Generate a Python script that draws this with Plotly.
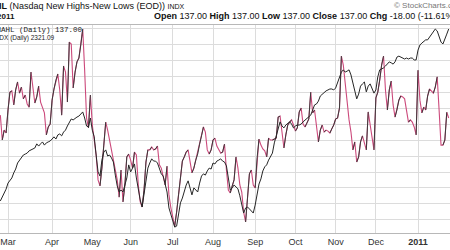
import pandas as pd
import plotly.graph_objects as go

# ---------------- data ----------------
holidays = ["2010-04-02", "2010-05-31", "2010-07-05", "2010-09-06",
            "2010-11-25", "2010-12-24", "2011-01-17"]
first_day = "2010-02-23"

nahl = [146, 68, 99, 90, 162, 218, 222, 178, 225, 250,
        215, 234, 197, 209, 181, 171, 281, 240, 184, 203,
        237, 187, 171, 153, 84, 109, 118, 193, 228, 256,
        275, 225, 146, 300, 281, 187, 375, 369, 231, 281,
        313, 325, 366, 416, 287, 137, 106, 209, 115, 68,
        21, -57, -76, -20, 52, 124, 99, 68, 30, -1,
        -26, -57, -111, -26, -126, -73, 15, 24, 5, -20,
        30, 21, -73, -126, -142, -89, -1, 37, 37, 46,
        37, 40, 49, -10, -20, -45, -73, -14, -104, -145,
        -177, -202, -158, -104, -51, 2, 15, 30, 37, 5,
        -35, -20, 5, 24, 55, 81, 109, 93, 37, 24,
        37, 68, 74, 49, 37, 27, 30, 55, -26, -89,
        -98, -76, -57, 15, -20, -73, -95, -158, -189, -114,
        -38, -26, -73, -82, 12, 71, 52, 40, 34, 15,
        74, 68, 68, 71, 74, 140, 143, 93, 43, 84,
        115, 124, 131, 115, 96, 106, 156, 168, 118, 109,
        121, 134, 218, 153, 162, 115, 62, 99, 115, 93,
        99, 96, 90, 103, 115, 134, 137, 168, 331, 303,
        240, 193, 131, 93, 37, 62, -1, 15, 62, 81,
        62, 37, 156, 112, 81, 37, 200, 218, 256, 303,
        331, 225, 162, 225, 253, 178, 140, 162, 193, 206,
        203, 197, 156, 124, 131, 124, 109, 84, 287, 193,
        153, 171, 162, 206, 228, 222, 215, 234, 266, 162,
        52, 52, 68, 155, 137]

ndx = [1782, 1794, 1807, 1819, 1838, 1848, 1854, 1870, 1882, 1901,
       1910, 1920, 1926, 1929, 1932, 1939, 1942, 1945, 1948, 1961,
       1954, 1961, 1967, 1957, 1964, 1967, 1970, 1976, 1983, 1976,
       1989, 1992, 1986, 1998, 2004, 2017, 2030, 2039, 2036, 2042,
       2045, 2048, 2055, 2061, 2042, 2017, 2014, 2042, 2004, 1983,
       1926, 1873, 1860, 1910, 1935, 1942, 1923, 1926, 1917, 1904,
       1863, 1829, 1810, 1816, 1810, 1832, 1854, 1895, 1873, 1885,
       1898, 1854, 1816, 1785, 1763, 1801, 1848, 1885, 1901, 1914,
       1907, 1907, 1901, 1885, 1867, 1860, 1829, 1810, 1760, 1738,
       1716, 1700, 1703, 1747, 1776, 1791, 1816, 1832, 1845, 1823,
       1801, 1823, 1816, 1810, 1838, 1860, 1867, 1863, 1876, 1885,
       1882, 1901, 1898, 1907, 1910, 1914, 1907, 1904, 1892, 1848,
       1816, 1823, 1832, 1826, 1820, 1798, 1766, 1744, 1760, 1763,
       1757, 1751, 1744, 1769, 1810, 1835, 1851, 1876, 1889, 1895,
       1910, 1920, 1932, 1964, 1986, 2011, 2030, 2017, 2011, 2020,
       2026, 2030, 2023, 2011, 2017, 2020, 2020, 2023, 2030, 2036,
       2042, 2045, 2051, 2067, 2083, 2086, 2095, 2111, 2117, 2124,
       2127, 2130, 2133, 2133, 2130, 2136, 2155, 2167, 2186, 2193,
       2186, 2189, 2193, 2177, 2155, 2130, 2102, 2117, 2142, 2149,
       2155, 2124, 2142, 2149, 2133, 2120, 2130, 2171, 2193, 2196,
       2199, 2205, 2211, 2218, 2215, 2211, 2218, 2233, 2236, 2233,
       2230, 2227, 2230, 2227, 2230, 2230, 2224, 2224, 2255, 2271,
       2277, 2283, 2287, 2287, 2296, 2305, 2315, 2321, 2315, 2296,
       2280, 2274, 2293, 2305, 2321.09]

month_ticks = ["2010-03-01", "2010-04-01", "2010-05-03", "2010-06-01",
               "2010-07-01", "2010-08-02", "2010-09-01", "2010-10-01",
               "2010-11-01", "2010-12-01", "2011-01-03"]
month_labels = ["Mar", "Apr", "May", "Jun", "Jul", "Aug", "Sep", "Oct",
                "Nov", "Dec", "<b>2011</b>"]

assert len(nahl) == len(ndx)
cbd = pd.offsets.CustomBusinessDay(holidays=holidays)
dates = pd.date_range(first_day, periods=len(nahl), freq=cbd)

# up-day segments of the colored price line
up_x, up_y = [], []
for i in range(1, len(nahl)):
    if nahl[i] > nahl[i - 1]:
        up_x += [dates[i - 1], dates[i], None]
        up_y += [nahl[i - 1], nahl[i], None]

RED = "#cc4a7c"
GRID = "#dcdcdc"

fig = go.Figure()
fig.add_trace(go.Scatter(x=dates, y=nahl, mode="lines",
                         line=dict(color=RED, width=1.1), yaxis="y",
                         hoverinfo="skip"))
fig.add_trace(go.Scatter(x=up_x, y=up_y, mode="lines",
                         line=dict(color="#3a3a3a", width=1.0), yaxis="y",
                         hoverinfo="skip"))
fig.add_trace(go.Scatter(x=dates, y=ndx, mode="lines",
                         line=dict(color="#262626", width=1.0), yaxis="y2",
                         hoverinfo="skip"))

fig.update_layout(
    width=450, height=250,
    margin=dict(l=0, r=0, t=25, b=17),
    paper_bgcolor="white", plot_bgcolor="white",
    showlegend=False,
    font=dict(family="Liberation Sans, Arial, sans-serif", color="#222"),
    xaxis=dict(
        type="date",
        range=["2010-02-22 19:40", "2011-01-26 16:30"],
        rangebreaks=[dict(bounds=["sat", "mon"]), dict(values=holidays)],
        tickmode="array", tickvals=month_ticks, ticktext=month_labels,
        showgrid=True, gridcolor=GRID, gridwidth=1,
        showline=True, mirror=True, linecolor="#b8b8b8", linewidth=1,
        ticks="", tickfont=dict(size=9, color="#333"),
        zeroline=False,
    ),
    yaxis=dict(
        range=[-223.5, 428.6], tick0=117.6, dtick=50,
        showgrid=True, gridcolor=GRID, gridwidth=1,
        showticklabels=False, zeroline=False, ticks="",
    ),
    yaxis2=dict(
        range=[1681.5, 2333.6], overlaying="y", side="right",
        showgrid=False, showticklabels=False, zeroline=False, ticks="",
    ),
)

ann = []
ann.append(dict(xref="paper", yref="paper", x=0, y=1, xanchor="left",
                yanchor="bottom", xshift=-25, yshift=12,
                text="<b>$NAHL</b> (Nasdaq New Highs-New Lows (EOD)) "
                     "<span style='font-size:7px'>INDX</span>",
                showarrow=False, font=dict(size=9, color="#111")))
ann.append(dict(xref="paper", yref="paper", x=0, y=1, xanchor="left",
                yanchor="bottom", xshift=392, yshift=13,
                text="© StockCharts.com", showarrow=False,
                font=dict(size=8, color="#777")))
ann.append(dict(xref="paper", yref="paper", x=0, y=1, xanchor="right",
                yanchor="bottom", xshift=17, yshift=2,
                text="<b>26-Jan-2011</b>", showarrow=False,
                font=dict(size=8, color="#111")))
ann.append(dict(xref="paper", yref="paper", x=0, y=1, xanchor="left",
                yanchor="bottom", xshift=152, yshift=2,
                text="<b>Open</b> 137.00 <b>High</b> 137.00 <b>Low</b> 137.00 "
                     "<b>Close</b> 137.00 <b>Chg</b> -18.00 (-11.61%)",
                showarrow=False, font=dict(size=9, color="#111")))
ann.append(dict(xref="paper", yref="paper", x=0, y=1, xanchor="left",
                yanchor="top", xshift=-10, yshift=1,
                text="$NAHL (Daily) 137.00", showarrow=False,
                font=dict(family="Liberation Mono, monospace", size=7.5,
                          color="#222")))
ann.append(dict(xref="paper", yref="paper", x=0, y=1, xanchor="left",
                yanchor="top", xshift=-11, yshift=-7,
                text="$NDX (Daily) 2321.09", showarrow=False,
                font=dict(size=6.5, color="#222")))
fig.update_layout(annotations=ann)

fig.write_html("out.html")
